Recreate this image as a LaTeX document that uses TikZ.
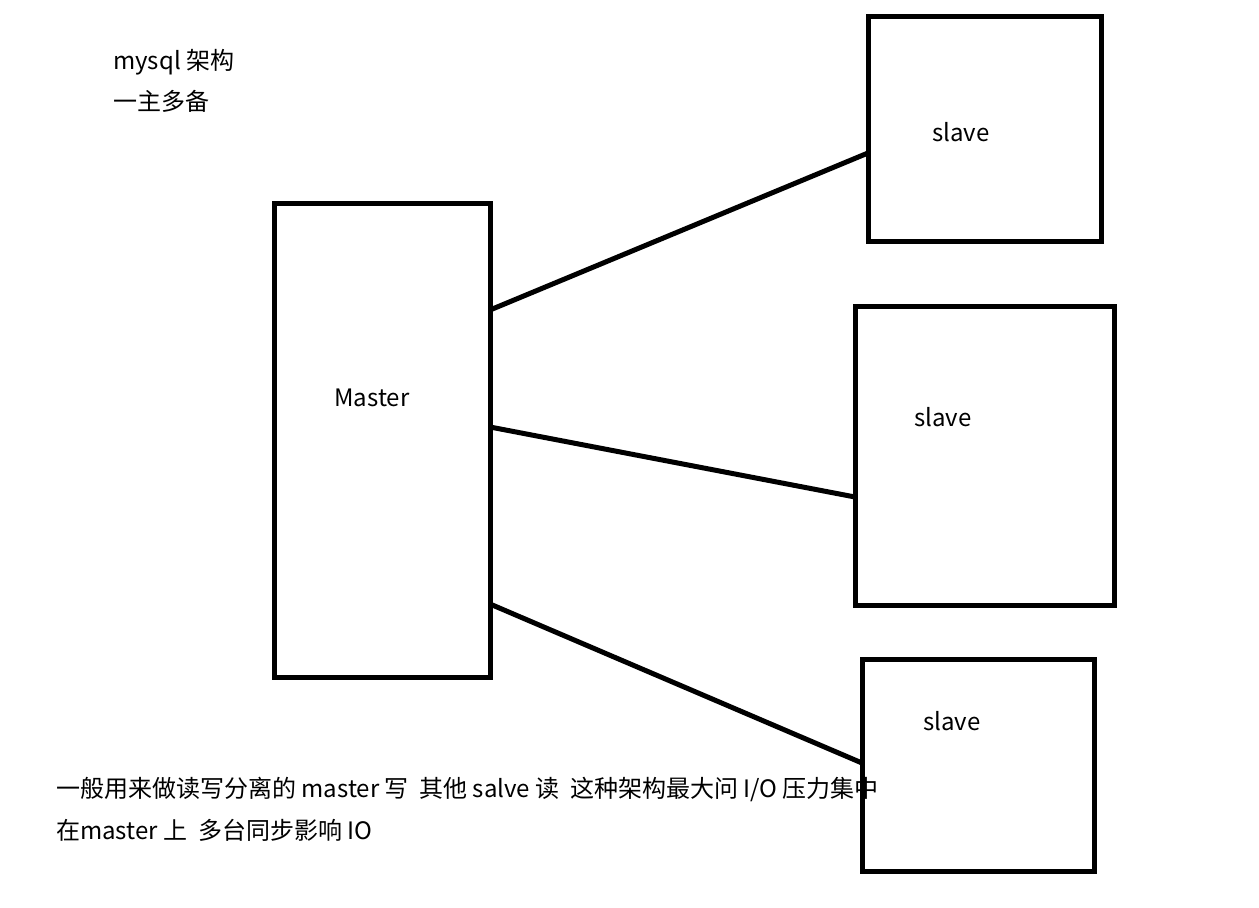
\documentclass[tikz,border=0pt]{standalone}
\usepackage{fontspec}
\setmainfont{Noto Sans CJK SC}
\begin{document}
\begin{tikzpicture}[x=1pt,y=-1pt,
  box/.style={draw=black,line width=5pt,inner sep=0pt,outer sep=0pt,fill=none},
  conn/.style={draw=black,line width=5pt},
  lbl/.style={inner sep=0pt,font=\fontsize{24}{28}\selectfont},
  note/.style={inner sep=0pt,anchor=west,font=\fontsize{24}{28}\selectfont}]
\useasboundingbox (0,0) rectangle (1259,908);
% texts
\node[note] (t1) at (113,62) {mysql 架构};
\node[note] (t2) at (113,101) {一主多备};
\node[note] (b1) at (56,789) {一般用来做读写分离的 master 写\ \ 其他 salve 读\ \ 这种架构最大问 I/O 压力集中};
\node[note] (b2) at (56,830) {在master 上\ \ 多台同步影响 IO};
% boxes
\node[box,minimum width=216pt,minimum height=474pt] (m) at (382,440) {};
\node[box,minimum width=233pt,minimum height=225pt] (s1) at (984.5,128.5) {};
\node[box,minimum width=259pt,minimum height=299pt] (s2) at (984.5,455.5) {};
\node[box,minimum width=232pt,minimum height=212pt] (s3) at (978,765) {};
% labels
\node[lbl] (lm) at (372,398) {Master};
\node[lbl] (l1) at (961,132) {slave};
\node[lbl] (l2) at (943,417) {slave};
\node[lbl] (l3) at (952,721) {slave};
% connectors
\draw[conn] (m.east |- 0,310) -- (s1.west |- 0,153);
\draw[conn] (m.east |- 0,427) -- (s2.west |- 0,497);
\draw[conn] (m.east |- 0,604) -- (s3.west |- 0,763);
\end{tikzpicture}
\end{document}
